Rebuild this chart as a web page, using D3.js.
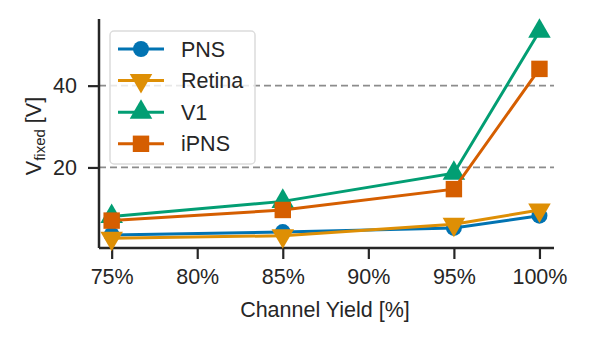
<!DOCTYPE html>
<html>
<head>
<meta charset="utf-8">
<script src="https://cdn.jsdelivr.net/npm/d3@7"></script>
<style>
  body { margin: 0; background: #fff; }
  text { font-family: "Liberation Sans", Arial, sans-serif; fill: #262626; }
</style>
</head>
<body>
<div class="chart"></div>
<script>
var w = 589;
var h = 342;
var margin = {top: 19, right: 35, bottom: 94, left: 99};
var fs = 21.5;

var yields = [75, 85, 95, 100];
var pns = [3.5, 4.2, 5.2, 8.2];
var retina = [2.7, 3.3, 6.1, 9.6];
var v1 = [8.0, 11.7, 18.6, 53.3];
var ipns = [7.0, 9.6, 14.7, 44.1];
var xTicks = [75, 80, 85, 90, 95, 100];
var yTicks = [20, 40];

var series = [
  {name: "PNS", values: pns, color: "#0173b2", marker: "circle"},
  {name: "Retina", values: retina, color: "#de8f05", marker: "down"},
  {name: "V1", values: v1, color: "#029e73", marker: "up"},
  {name: "iPNS", values: ipns, color: "#d55e00", marker: "square"}
];

var svg = d3.select(".chart")
            .append("svg")
            .attr("width", w)
            .attr("height", h);

var xScale = d3.scaleLinear()
    .domain([74.26, 100.85])
    .range([margin.left, w - margin.right]);

var yScale = d3.scaleLinear()
    .domain([0.3, 56.3])
    .range([h - margin.bottom, margin.top]);

// grid
svg.selectAll(".grid")
   .data(yTicks)
   .enter()
   .append("line")
   .attr("x1", margin.left)
   .attr("x2", w - margin.right)
   .attr("y1", (d) => yScale(d))
   .attr("y2", (d) => yScale(d))
   .attr("stroke", "#8c8c8c")
   .attr("stroke-width", 1.8)
   .attr("stroke-dasharray", "7,4");

// axes
var xAxis = svg.append("g")
   .attr("transform", "translate(0," + (h - margin.bottom) + ")")
   .call(d3.axisBottom(xScale).tickValues(xTicks).tickFormat((d) => d + "%").tickSize(11).tickPadding(10));

var yAxis = svg.append("g")
   .attr("transform", "translate(" + margin.left + ",0)")
   .call(d3.axisLeft(yScale).tickValues(yTicks).tickSize(11).tickPadding(11));

[xAxis, yAxis].forEach(function (g) {
  g.select(".domain").attr("stroke", "#262626").attr("stroke-width", 2.5);
  g.selectAll(".tick line").attr("stroke", "#262626").attr("stroke-width", 2.2);
  g.selectAll(".tick text").attr("font-size", fs).attr("fill", "#262626")
   .attr("font-family", "'Liberation Sans', Arial, sans-serif");
});
xAxis.select(".domain").attr("d", "M" + margin.left + ",0H" + (w - margin.right));
yAxis.select(".domain").attr("d", "M0," + margin.top + "V" + (h - margin.bottom));

// labels
svg.append("text")
   .attr("x", 325)
   .attr("y", 317)
   .attr("text-anchor", "middle")
   .attr("font-size", fs)
   .text("Channel Yield [%]");

var yl = svg.append("text")
   .attr("transform", "translate(41,136) rotate(-90)")
   .attr("text-anchor", "middle")
   .attr("font-size", fs);
yl.append("tspan").text("V");
yl.append("tspan").attr("font-size", 15).attr("dy", 4).text("fixed");
yl.append("tspan").attr("dy", -4).text(" [V]");

function markerPath(type) {
  var sym = {circle: d3.symbolCircle, square: d3.symbolSquare, up: d3.symbolTriangle, down: d3.symbolTriangle}[type];
  var size = {circle: 200, square: 270, up: 220, down: 220}[type];
  return d3.symbol().type(sym).size(size)();
}

var line = d3.line()
    .x((d, i) => xScale(yields[i]))
    .y((d) => yScale(d));

series.forEach(function (s) {
  svg.append("path")
     .attr("d", line(s.values))
     .attr("fill", "none")
     .attr("stroke", s.color)
     .attr("stroke-width", 3);
  svg.selectAll(null)
     .data(s.values)
     .enter()
     .append("path")
     .attr("d", markerPath(s.marker))
     .attr("transform", (d, i) => "translate(" + xScale(yields[i]) + "," + yScale(d) + ")" + (s.marker == "down" ? " rotate(180)" : ""))
     .attr("fill", s.color);
});

// legend
var lg = svg.append("g").attr("transform", "translate(110,31)");
lg.append("rect")
  .attr("width", 145)
  .attr("height", 133)
  .attr("rx", 4)
  .attr("fill", "rgba(255,255,255,0.8)")
  .attr("stroke", "#dcdcdc")
  .attr("stroke-width", 1.5);

series.forEach(function (s, i) {
  var y = 18 + i * 31.6;
  lg.append("line")
    .attr("x1", 8).attr("x2", 54)
    .attr("y1", y).attr("y2", y)
    .attr("stroke", s.color)
    .attr("stroke-width", 3);
  lg.append("path")
    .attr("d", markerPath(s.marker))
    .attr("transform", "translate(31," + y + ")" + (s.marker == "down" ? " rotate(180)" : ""))
    .attr("fill", s.color);
  lg.append("text")
    .attr("x", 71)
    .attr("y", y + 7.5)
    .attr("font-size", fs)
    .text(s.name);
});
</script>
</body>
</html>
